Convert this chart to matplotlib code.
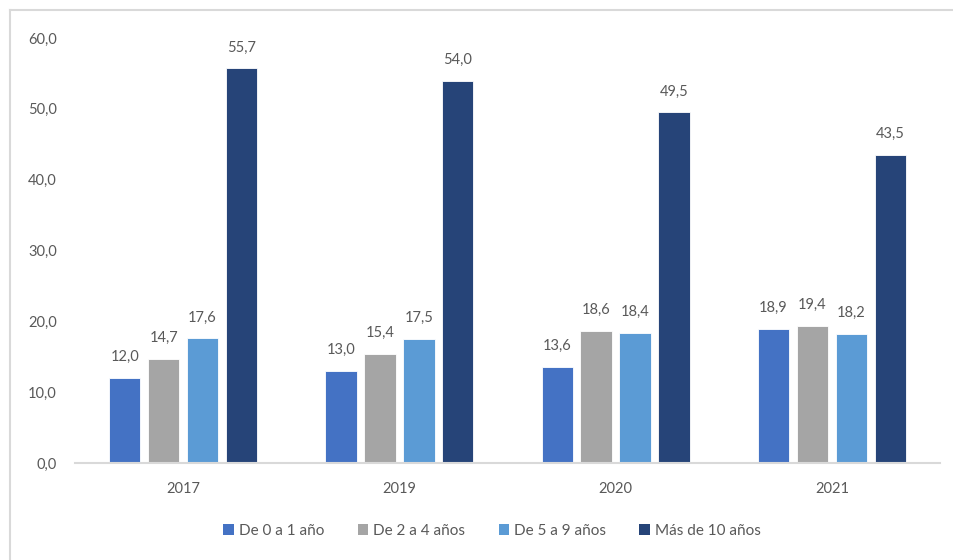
import matplotlib
matplotlib.use("Agg")
import matplotlib.pyplot as plt
from matplotlib.lines import Line2D
from matplotlib.patches import Patch
import numpy as np

plt.rcParams['font.family'] = ['Lato', 'DejaVu Sans']

years = ["2017", "2019", "2020", "2021"]
series_names = ["De 0 a 1 año", "De 2 a 4 años", "De 5 a 9 años", "Más de 10 años"]
de_0_a_1 = [12.0, 13.0, 13.6, 18.9]
de_2_a_4 = [14.7, 15.4, 18.6, 19.4]
de_5_a_9 = [17.6, 17.5, 18.4, 18.2]
mas_de_10 = [55.7, 54.0, 49.5, 43.5]
y_ticks = [0, 10, 20, 30, 40, 50, 60]

series = [de_0_a_1, de_2_a_4, de_5_a_9, mas_de_10]
colors = ["#4472C4", "#A5A5A5", "#5B9BD5", "#264478"]
text_color = "#595959"
line_color = "#D9D9D9"

W, H = 954, 560
fig = plt.figure(figsize=(W / 100, H / 100), dpi=100)
ax = fig.add_axes([75 / W, (H - 463) / H, (940 - 75) / W, (463 - 38) / H])

step = 0.18
width = 0.145
centers = np.arange(len(years)) + 0.5
for k, (vals, col) in enumerate(zip(series, colors)):
    xs = centers + (k - 1.5) * step
    bars = ax.bar(xs, vals, width=width, color=col, edgecolor="white",
                  linewidth=0.6, zorder=2)
    for b, v in zip(bars, vals):
        ax.annotate(f"{v:.1f}".replace(".", ","),
                    (b.get_x() + b.get_width() / 2, v),
                    xytext=(0, 10), textcoords="offset points",
                    ha="center", va="bottom", fontsize=10.5, color=text_color)

ax.set_xlim(0, len(years))
ax.set_ylim(0, 60)
ax.set_yticks(y_ticks)
ax.set_yticklabels([f"{t:.1f}".replace(".", ",") for t in y_ticks])
ax.set_xticks(centers)
ax.set_xticklabels(years)
ax.tick_params(axis="both", length=0, labelsize=10.5, labelcolor=text_color)
ax.tick_params(axis="y", pad=13)
ax.tick_params(axis="x", pad=14)
for side in ["top", "right", "left"]:
    ax.spines[side].set_visible(False)
ax.spines["bottom"].set_color(line_color)
ax.spines["bottom"].set_linewidth(1.5)

# outer chart frame (top and left edges)
fig.add_artist(Line2D([10 / W, 1.0], [(H - 10) / H, (H - 10) / H],
                      color=line_color, lw=1.5, transform=fig.transFigure))
fig.add_artist(Line2D([10 / W, 10 / W], [0, (H - 10) / H],
                      color=line_color, lw=1.5, transform=fig.transFigure))

handles = [Patch(facecolor=c, edgecolor="none") for c in colors]
leg = fig.legend(handles, series_names, loc="center",
                 bbox_to_anchor=(492 / W, (H - 531) / H),
                 ncol=4, frameon=False, fontsize=11,
                 handlelength=0.7, handleheight=0.7, handletextpad=0.3,
                 columnspacing=2.2)
for t in leg.get_texts():
    t.set_color(text_color)

fig.savefig("out.png", dpi=100)
